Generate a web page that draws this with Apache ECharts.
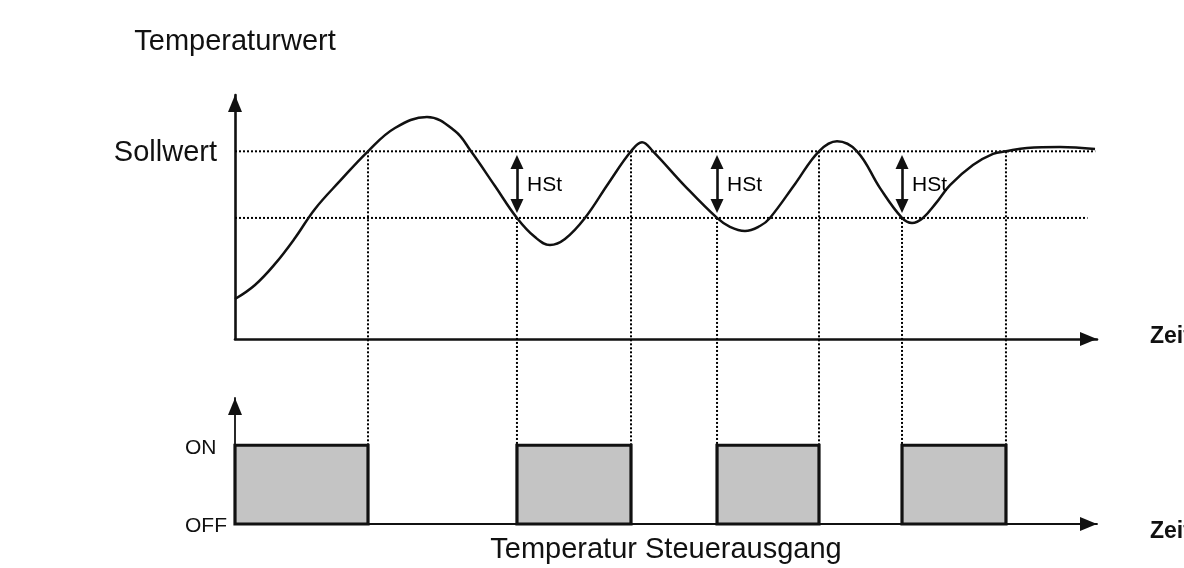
<!DOCTYPE html>
<html><head><meta charset="utf-8">
<script src="https://cdn.jsdelivr.net/npm/echarts@6/dist/echarts.min.js"></script>
<style>html,body{margin:0;padding:0;background:#fff}#c{width:1184px;height:568px}</style>
</head><body><div id="c"></div>
<script>
// ---- data ----
const tempTime  = [0, 2.32, 4.64, 6.96, 9.28, 12.18, 15.43, 18.56, 22.27, 25.52, 27.38, 30.16, 32.71, 34.80, 36.54, 38.28, 40.60, 43.27, 45.94, 47.22, 48.49, 52.20, 55.92, 57.42, 59.16, 60.90, 62.06, 64.97, 67.75, 69.84, 72.16, 74.83, 77.38, 78.54, 79.81, 81.32, 82.95, 85.61, 87.94, 89.44, 91.88, 95.71, 99.77];
const tempValue = [21.3, 28.8, 40.0, 53.8, 69.3, 84.2, 100, 112.4, 118.3, 110.8, 100, 81.5, 64.5, 54.3, 50.1, 53.3, 64.5, 82.6, 100, 104.8, 100, 81.5, 64.5, 59.7, 57.5, 60.2, 64.5, 82.6, 100, 105.3, 100, 80.4, 64.5, 61.8, 64.5, 72.4, 82.0, 92.7, 98.6, 100, 101.8, 102.3, 101.2];
const sollwert = 100;
const lowerLimit = 64.5;
const sollLineEnd = 99.8;
const lowerLineEnd = 98.9;
// switching instants and the level at which each one is triggered
const switchTimes  = [15.43, 32.71, 45.94, 55.92, 67.75, 77.38, 89.44];
const switchLevels = [100, 64.5, 100, 64.5, 100, 64.5, 100];
// heater ON periods [start, end]
const onStart = [0, 32.71, 55.92, 77.38];
const onEnd   = [15.43, 45.94, 67.75, 89.44];
// hysteresis (HSt) markers: arrow from just below Sollwert to just above the lower limit
const hstTimes = [32.71, 55.92, 77.38];
const hstLabel = 'HSt';
const hstLabelValue = 82;
const hstArrowTop = 94.3;
const hstArrowBottom = 70.9;
// time-axis caption ("Zeit") anchors: [time, value] just past each axis arrow
const zeitLabel = 'Zeit';
const zeitTop = [106.15, 1.0];
const zeitBottom = [106.15, -0.10];

// ---- layout ----
const TOP = {left: 235, top: 95, width: 862, height: 244};
const BOT = {left: 235, top: 398, width: 862, height: 126};
const Y_MAX = 130, ON_MAX = 1.6;
const onPx = BOT.top + BOT.height * (1 - 1 / ON_MAX);
// temperature value lying at the ON level of the lower panel (guides run down to it)
const guideBottom = -(onPx - (TOP.top + TOP.height)) * Y_MAX / TOP.height;

const FONT = '"Liberation Sans", Arial, sans-serif';
const INK = '#111';
const DOT = [2, 2];
const ARROW = {symbol: ['none', 'triangle'], symbolSize: [14, 17], symbolOffset: [0, -8.5]};

const curve = tempTime.map((t, i) => [t, tempValue[i]]);
const guides = switchTimes.map((t, i) => ({
  type: 'line', xAxisIndex: 0, yAxisIndex: 0, clip: false, silent: true,
  symbol: 'none', z: 1,
  lineStyle: {color: '#000', width: 2, type: DOT},
  data: [[t, switchLevels[i]], [t, guideBottom]]
}));
const periods = onStart.map((s, i) => [s, onEnd[i]]);
const zeitStyle = {show: true, position: 'right', distance: 0, formatter: zeitLabel,
                   fontFamily: FONT, fontSize: 23, fontWeight: 'bold', color: INK};

const chart = echarts.init(document.getElementById('c'), null, {renderer: 'canvas'});
chart.setOption({
  animation: false,
  backgroundColor: '#fff',
  textStyle: {fontFamily: FONT},
  grid: [
    Object.assign({containLabel: false}, TOP),
    Object.assign({containLabel: false}, BOT)
  ],
  xAxis: [
    {gridIndex: 0, type: 'value', min: 0, max: 100,
     axisLine: Object.assign({show: true, lineStyle: {color: INK, width: 2.6}}, ARROW),
     axisTick: {show: false}, axisLabel: {show: false}, splitLine: {show: false}},
    {gridIndex: 1, type: 'value', min: 0, max: 100,
     axisLine: Object.assign({show: true, lineStyle: {color: INK, width: 1.8}}, ARROW),
     axisTick: {show: false}, axisLabel: {show: false}, splitLine: {show: false},
     name: 'Temperatur Steuerausgang', nameLocation: 'middle', nameGap: 11,
     nameTextStyle: {fontFamily: FONT, fontSize: 29, color: INK}}
  ],
  yAxis: [
    {gridIndex: 0, type: 'value', min: 0, max: Y_MAX,
     axisLine: Object.assign({show: true, lineStyle: {color: INK, width: 2.6}}, ARROW),
     axisTick: {show: false}, splitLine: {show: false},
     axisLabel: {show: true, customValues: [sollwert], formatter: v => (v === sollwert ? 'Sollwert' : ''),
                 fontFamily: FONT, fontSize: 29, color: INK, margin: 18, verticalAlign: 'top', lineHeight: 4},
     name: 'Temperaturwert', nameLocation: 'end', nameGap: 39,
     nameTextStyle: {fontFamily: FONT, fontSize: 29, color: INK}},
    {gridIndex: 1, type: 'value', min: 0, max: ON_MAX,
     axisLine: Object.assign({show: true, lineStyle: {color: INK, width: 1.8}}, ARROW),
     axisTick: {show: false}, splitLine: {show: false},
     axisLabel: {show: true, customValues: [0, 1], formatter: v => (v === 1 ? 'ON' : v === 0 ? 'OFF' : ''),
                 fontFamily: FONT, fontSize: 21, color: INK, margin: 50, align: 'left', verticalAlign: 'top', lineHeight: 5}}
  ],
  series: [
    {type: 'line', xAxisIndex: 0, yAxisIndex: 0, symbol: 'none', silent: true, z: 1,
     lineStyle: {color: '#000', width: 2, type: DOT},
     data: [[0, sollwert], [sollLineEnd, sollwert]]},
    {type: 'line', xAxisIndex: 0, yAxisIndex: 0, symbol: 'none', silent: true, z: 1,
     lineStyle: {color: '#000', width: 2, type: DOT},
     data: [[0, lowerLimit], [lowerLineEnd, lowerLimit]]},
    ...guides,
    {type: 'line', xAxisIndex: 0, yAxisIndex: 0, symbol: 'none', smooth: 0.4, silent: true, z: 3,
     lineStyle: {color: INK, width: 2.5}, data: curve},
    {type: 'scatter', xAxisIndex: 0, yAxisIndex: 0, symbolSize: 0, silent: true, z: 4,
     itemStyle: {opacity: 1},
     label: {show: true, position: 'right', distance: 10, formatter: hstLabel, fontFamily: FONT, fontSize: 21, color: '#000'},
     data: hstTimes.map(t => [t, hstLabelValue]),
     markLine: {silent: true, symbol: ['triangle', 'triangle'], symbolSize: [13, 14], label: {show: false},
                lineStyle: {color: INK, width: 2.6, type: 'solid'},
                data: hstTimes.map(t => [{coord: [t, hstArrowTop]}, {coord: [t, hstArrowBottom]}])}},
    {type: 'scatter', xAxisIndex: 0, yAxisIndex: 0, symbolSize: 0, silent: true, clip: false, z: 4,
     itemStyle: {opacity: 1}, label: zeitStyle, data: [zeitTop]},
    {type: 'scatter', xAxisIndex: 1, yAxisIndex: 1, symbolSize: 0, silent: true, clip: false, z: 4,
     itemStyle: {opacity: 1}, label: zeitStyle, data: [zeitBottom]},
    {type: 'custom', xAxisIndex: 1, yAxisIndex: 1, silent: true, z: 5,
     encode: {x: [0, 1]},
     renderItem: (params, api) => {
       const a = api.coord([api.value(0), 1]);
       const b = api.coord([api.value(1), 0]);
       return {type: 'rect', shape: {x: a[0], y: a[1], width: b[0] - a[0], height: b[1] - a[1]},
               style: {fill: '#c4c4c4', stroke: '#111', lineWidth: 3.2}};
     },
     data: periods}
  ]
});
</script></body></html>
